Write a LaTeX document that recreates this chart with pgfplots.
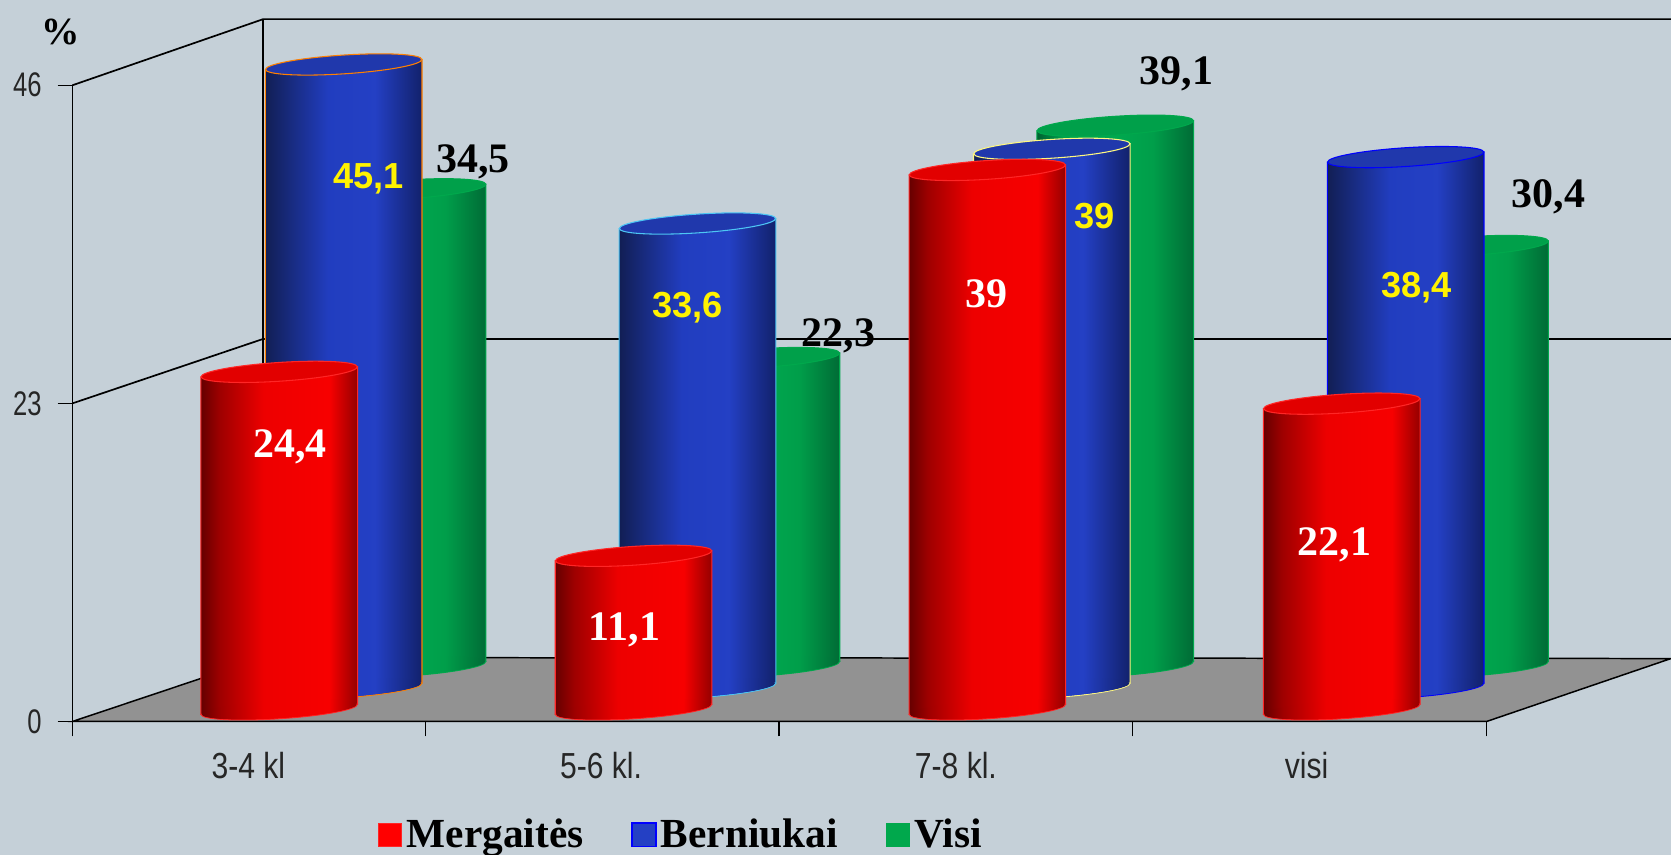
\documentclass[border=0pt]{standalone}
\usepackage{fontspec}
\setmainfont{Liberation Sans}
\newfontfamily\tms{Liberation Serif}
\usepackage{pgfplots}
\pgfplotsset{compat=1.18}
\usetikzlibrary{shapes.geometric}
\definecolor{bgc}{HTML}{C5D0D8}
\definecolor{floorc}{HTML}{929292}
\definecolor{topred}{HTML}{E20000}
\definecolor{topblue}{HTML}{2038AC}
\definecolor{topgreen}{HTML}{00A04A}
\definecolor{fred}{HTML}{FF0000}
\definecolor{fblue}{HTML}{2440C4}
\definecolor{fgreen}{HTML}{00A84C}
\pgfdeclarehorizontalshading{redcyl}{100bp}{rgb(0bp)=(.40,0,0);rgb(25bp)=(.40,0,0);rgb(31bp)=(.62,0,0);rgb(45bp)=(.93,0,0);rgb(66bp)=(.97,0,0);rgb(75bp)=(.58,0,0);rgb(100bp)=(.58,0,0)}
\pgfdeclarehorizontalshading{bluecyl}{100bp}{rgb(0bp)=(.07,.12,.33);rgb(25bp)=(.07,.12,.33);rgb(45bp)=(.13,.24,.75);rgb(60bp)=(.14,.25,.77);rgb(75bp)=(.07,.13,.42);rgb(100bp)=(.07,.13,.42)}
\pgfdeclarehorizontalshading{greencyl}{100bp}{rgb(0bp)=(0,.38,.19);rgb(25bp)=(0,.38,.19);rgb(33bp)=(0,.62,.3);rgb(50bp)=(0,.66,.31);rgb(62bp)=(0,.62,.29);rgb(75bp)=(0,.42,.21);rgb(100bp)=(0,.42,.21)}
% #1 centre x, #2 value, #3 base lift (pt), #4 shading, #5 edge, #6 top colour
\newcommand\cyl[6]{%
  \addplot[forget plot,draw=none,mark=none,yslant=0.065,yshift={#3-0.065*(#1-68)*0.5},
    nodes near coords={},nodes near coords align={anchor=center},
    every node near coord/.append style={ellipse,inner sep=0pt,outer sep=0pt,anchor=center,rotate=3.7,
      minimum width=73.5pt,minimum height=8.8pt,shading=#4,draw=#5,line width=.5pt}]
    coordinates {(#1,0)};
  \addplot[forget plot,ybar,bar width=73.5pt,bar shift=0pt,shading=#4,draw=#5,line width=.5pt,
    yslant=0.065,yshift={#3-0.065*(#1-68)*0.5}] coordinates {(#1,#2)};
  \addplot[forget plot,draw=none,mark=none,yslant=0.065,yshift={#3-0.065*(#1-68)*0.5},
    nodes near coords={},nodes near coords align={anchor=center},
    every node near coord/.append style={ellipse,inner sep=0pt,outer sep=0pt,anchor=center,rotate=3.7,
      minimum width=72.8pt,minimum height=8.3pt,shading=#4,draw=none}]
    coordinates {(#1,0)};
  \addplot[forget plot,draw=none,mark=none,yslant=0.065,yshift={#3-0.065*(#1-68)*0.5},
    nodes near coords={},nodes near coords align={anchor=center},
    every node near coord/.append style={ellipse,inner sep=0pt,outer sep=0pt,anchor=center,rotate=3.7,
      minimum width=73.5pt,minimum height=8.8pt,fill=#6,draw=#5,line width=.5pt}]
    coordinates {(#1,#2)};
}
\newcommand\lab[4]{\node[text=#4,font=#3,inner sep=0pt,yshift=-1pt] at (axis cs:#1) {#2};}
\newcommand\serif{\tms\bfseries\fontsize{19.7}{20}\selectfont}
\newcommand\arial{\bfseries\fontsize{17}{18}\selectfont}
\newcommand\xl[1]{\scalebox{.83}[1]{#1}}
\newcommand\yl[1]{\scalebox{.75}[1]{#1}}
\begin{document}
\begin{tikzpicture}
\path[use as bounding box,fill=bgc] (0,0) rectangle (784pt,401pt);
\begin{axis}[
  at={(34pt,62.5pt)},anchor=south west,scale only axis,width=663.5pt,height=298.5pt,
  xmin=68,xmax=1395,ymin=0,ymax=46,clip=false,clip marker paths=true,
  axis x line*=bottom,axis y line*=left,
  axis line style={black,line width=.8pt,-},
  tick align=outside,
  major tick length=7pt,
  tick style={black,line width=.5pt},
  ytick={0,23,46},yticklabels={\yl{0},\yl{23},\yl{46}},
  yticklabel style={font=\fontsize{16}{18}\selectfont,text=black!85,xshift=-4pt},
  xtick={68,399,731,1063,1395},xticklabels={},
  extra x ticks={233,564,897,1226},
  extra x tick labels={\xl{3-4 kl},\xl{5-6 kl.},\xl{7-8 kl.},\xl{visi}},
  extra x tick style={major tick length=0pt,tick style={draw=none},
    xticklabel style={font=\fontsize{17}{18}\selectfont,text=black!85,yshift=-11pt}},
  legend style={at={(axis cs:640,-8.2)},anchor=center,draw=none,fill=none,legend columns=3,
    font=\tms\bfseries\fontsize{19.4}{20}\selectfont,
    /tikz/every even column/.append style={column sep=20.5pt}},
]
\addlegendimage{legend image code/.code={\draw[fill=fred,draw=fred!85!white,line width=.5pt] (-2pt,-5.5pt) rectangle (9pt,5.5pt);}}
\addlegendentry{Mergaitės}
\addlegendimage{legend image code/.code={\draw[fill=fblue,draw=blue,line width=.8pt] (-2pt,-5.5pt) rectangle (9pt,5.5pt);}}
\addlegendentry{Berniukai}
\addlegendimage{legend image code/.code={\draw[fill=fgreen,draw=fgreen,line width=.5pt] (-2pt,-5.5pt) rectangle (9pt,5.5pt);}}
\addlegendentry{Visi}
% floor and walls
\addplot[forget plot,fill=floorc,draw=black,line width=.7pt] coordinates {(68,0)(1395,0)(1568,4.55)(247,4.62)} --cycle;
\addplot[forget plot,black,line width=.8pt] coordinates {(68,46)(247,50.78)(1568,50.78)};
\addplot[forget plot,black,line width=.8pt] coordinates {(247,4.62)(247,50.78)};
\addplot[forget plot,black,line width=.8pt] coordinates {(68,23)(247,27.66)(1568,27.66)};
% Visi
\cyl{382.5}{34.5}{25.8}{greencyl}{fgreen}{topgreen}
\cyl{714.5}{22.3}{25.8}{greencyl}{fgreen}{topgreen}
\cyl{1046.5}{39.1}{25.8}{greencyl}{fgreen}{topgreen}
\cyl{1379.5}{30.4}{25.8}{greencyl}{fgreen}{topgreen}
% Berniukai
\cyl{322.5}{45.1}{15.6}{bluecyl}{orange}{topblue}
\cyl{654.5}{33.6}{15.6}{bluecyl}{cyan!70!white}{topblue}
\cyl{987}{39}{15.6}{bluecyl}{yellow!50!white}{topblue}
\cyl{1319}{38.4}{15.6}{bluecyl}{blue}{topblue}
% Mergaites
\cyl{262}{24.4}{5.7}{redcyl}{red!85!white}{topred}
\cyl{594.5}{11.1}{5.7}{redcyl}{red!85!white}{topred}
\cyl{926.5}{39}{5.7}{redcyl}{red!85!white}{topred}
\cyl{1259}{22.1}{5.7}{redcyl}{red!85!white}{topred}
% value labels
\lab{444,40.6}{34,5}{\serif}{black}
\lab{346,39.4}{45,1}{\arial}{yellow}
\lab{272,20.0}{24,4}{\serif}{white}
\lab{645,30.1}{33,6}{\arial}{yellow}
\lab{787,28.0}{22,3}{\serif}{black}
\lab{586,6.8}{11,1}{\serif}{white}
\lab{926,31.1}{39}{\serif}{white}
\lab{1027,36.7}{39}{\arial}{yellow}
\lab{1104,47.0}{39,1}{\serif}{black}
\lab{1329,31.5}{38,4}{\arial}{yellow}
\lab{1453,38.1}{30,4}{\serif}{black}
\lab{1252,12.9}{22,1}{\serif}{white}
\lab{57,50.0}{\%}{\tms\bfseries\fontsize{18}{20}\selectfont}{black}
\end{axis}
\end{tikzpicture}
\end{document}
